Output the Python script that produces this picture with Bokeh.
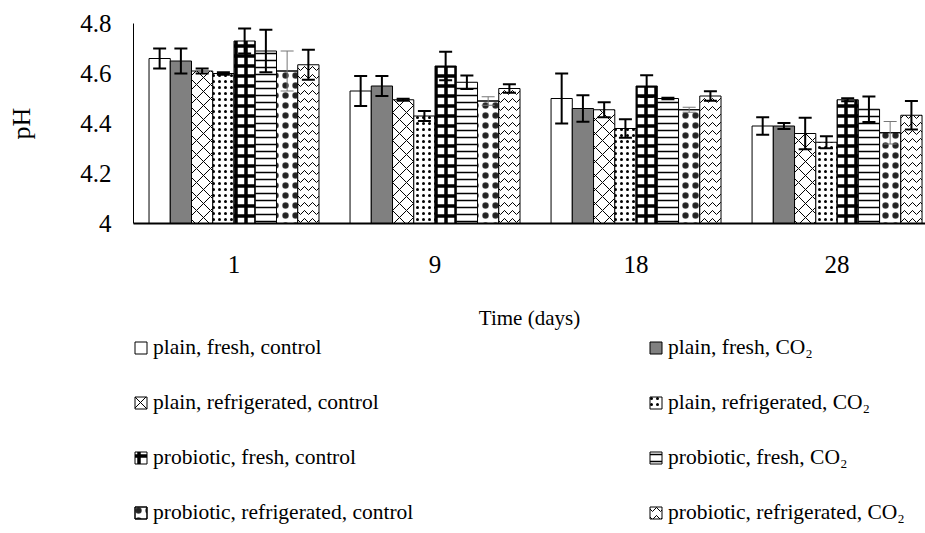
import numpy as np
from bokeh.plotting import figure
from bokeh.layouts import column
from bokeh.models import (ColumnDataSource, Whisker, TeeHead, Legend, LegendItem,
                          FixedTicker, Range1d)
from bokeh.embed import file_html
from bokeh.resources import INLINE

# ---------------- data ----------------
days = ["1", "9", "18", "28"]
y_ticks = [4.0, 4.2, 4.4, 4.6, 4.8]
y_tick_labels = ["4", "4.2", "4.4", "4.6", "4.8"]

series_names = [
    "plain, fresh, control",
    "plain, fresh, CO₂",
    "plain, refrigerated, control",
    "plain, refrigerated, CO₂",
    "probiotic, fresh, control",
    "probiotic, fresh, CO₂",
    "probiotic, refrigerated, control",
    "probiotic, refrigerated, CO₂",
]

ph_plain_fresh_control = [4.66, 4.53, 4.50, 4.39]
ph_plain_fresh_co2 = [4.65, 4.55, 4.46, 4.39]
ph_plain_refr_control = [4.61, 4.495, 4.455, 4.36]
ph_plain_refr_co2 = [4.60, 4.43, 4.38, 4.325]
ph_prob_fresh_control = [4.73, 4.63, 4.55, 4.495]
ph_prob_fresh_co2 = [4.69, 4.565, 4.50, 4.457]
ph_prob_refr_control = [4.61, 4.49, 4.455, 4.363]
ph_prob_refr_co2 = [4.635, 4.54, 4.51, 4.433]

err_plain_fresh_control = [0.04, 0.06, 0.10, 0.035]
err_plain_fresh_co2 = [0.05, 0.04, 0.053, 0.012]
err_plain_refr_control = [0.01, 0.004, 0.03, 0.063]
err_plain_refr_co2 = [0.005, 0.02, 0.037, 0.024]
err_prob_fresh_control = [0.05, 0.057, 0.043, 0.006]
err_prob_fresh_co2 = [0.085, 0.027, 0.003, 0.051]
err_prob_refr_control = [0.08, 0.017, 0.01, 0.045]
err_prob_refr_co2 = [0.06, 0.017, 0.019, 0.057]

values = [ph_plain_fresh_control, ph_plain_fresh_co2, ph_plain_refr_control,
          ph_plain_refr_co2, ph_prob_fresh_control, ph_prob_fresh_co2,
          ph_prob_refr_control, ph_prob_refr_co2]
errors = [err_plain_fresh_control, err_plain_fresh_co2, err_plain_refr_control,
          err_plain_refr_co2, err_prob_fresh_control, err_prob_fresh_co2,
          err_prob_refr_control, err_prob_refr_co2]

# ---------------- styles ----------------
FONT = "Liberation Serif"
fills = ["white", "#808080", "white", "white", "white", "white", "white", "white"]
hatches = [None, None, "x", ".", "+", "-", "o", "v"]
hatch_scales = [12, 12, 14, 6, 10, 7, 10, 8]
hatch_weights = [1, 1, 1, 2.5, 3.5, 1.5, 1.5, 1]
hatch_colors = ["black", "black", "black", "black", "black", "black", "#444444", "black"]
err_colors = ["black"] * 6 + ["#777777", "black"]
err_widths = [2] * 6 + [1, 2]

W = 925
H_MAIN = 335
H_LEG = 533 - H_MAIN


def add_bars(fig, i, src, width):
    kw = dict(x="x", top="top", bottom=0, width=width, source=src,
              fill_color=fills[i], line_color="black", line_width=1)
    if hatches[i]:
        kw.update(hatch_pattern=hatches[i], hatch_scale=hatch_scales[i],
                  hatch_weight=hatch_weights[i], hatch_color=hatch_colors[i])
    rs = [fig.vbar(**kw)]
    if i == 6:
        rs.append(fig.vbar(x="x", top="top", bottom=0, width=width, source=src,
                           fill_alpha=0, line_color="black", line_width=1,
                           hatch_pattern=".", hatch_scale=10, hatch_weight=3,
                           hatch_color="#222222"))
    return rs


# ---------------- main chart ----------------
p = figure(width=W, height=H_MAIN, x_range=Range1d(0, 3.94), y_range=Range1d(4, 4.8),
           output_backend="svg", toolbar_location=None,
           min_border_left=133, min_border_right=0, min_border_top=23,
           min_border_bottom=H_MAIN - 223)
p.outline_line_color = None
p.grid.visible = False
p.background_fill_color = "white"

xc = np.arange(len(days)) + 0.5
bw = 0.1057
offsets = (np.arange(len(values)) - (len(values) - 1) / 2) * bw

for i, (v, e) in enumerate(zip(values, errors)):
    xs = xc + offsets[i]
    src = ColumnDataSource(dict(x=xs, top=v, upper=np.array(v) + np.array(e),
                                lower=np.array(v) - np.array(e)))
    add_bars(p, i, src, bw)
    w = Whisker(source=src, base="x", upper="upper", lower="lower", dimension="height",
                line_color=err_colors[i], line_width=err_widths[i], level="annotation",
                upper_head=TeeHead(size=13, line_color=err_colors[i], line_width=err_widths[i]),
                lower_head=TeeHead(size=13, line_color=err_colors[i], line_width=err_widths[i]))
    p.add_layout(w)

p.xaxis.ticker = FixedTicker(ticks=list(xc))
p.xaxis.major_label_overrides = {float(x): d for x, d in zip(xc, days)}
p.yaxis.ticker = FixedTicker(ticks=y_ticks)
p.yaxis.major_label_overrides = {t: l for t, l in zip(y_ticks, y_tick_labels)}
for ax in (p.xaxis[0], p.yaxis[0]):
    ax.major_tick_out = 0
    ax.major_tick_in = 0
    ax.minor_tick_out = 0
    ax.minor_tick_in = 0
    ax.axis_line_color = "black"
    ax.major_label_text_font = FONT
    ax.major_label_text_font_size = "25px"
    ax.major_label_text_color = "black"
    ax.axis_label_text_font = FONT
    ax.axis_label_text_font_style = "normal"
    ax.axis_label_text_color = "black"
p.xaxis.axis_line_width = 2
p.yaxis.axis_line_width = 1
p.xaxis.major_label_standoff = 32
p.yaxis.major_label_standoff = 22

p.xaxis.axis_label = "Time (days)"
p.xaxis.axis_label_text_font_size = "21px"
p.xaxis.axis_label_standoff = 30

p.yaxis.axis_label = "pH"
p.yaxis.axis_label_text_font_size = "26px"
p.yaxis.axis_label_standoff = 41

# ---------------- legend panel ----------------
lg = figure(width=W, height=H_LEG, x_range=Range1d(0, 1), y_range=Range1d(0, 1),
            output_backend="svg", toolbar_location=None,
            x_axis_type=None, y_axis_type=None,
            min_border_left=0, min_border_right=0, min_border_top=0, min_border_bottom=0)
lg.outline_line_color = None
lg.background_fill_color = "white"

# off-screen proxy renderers that only provide the legend swatches
proxy = ColumnDataSource(dict(x=[-5.0], top=[-5.0]))
leg_renderers = [add_bars(lg, i, proxy, 0.1) for i in range(len(values))]


def make_legend(idx, vx):
    items = [LegendItem(label=series_names[i], renderers=leg_renderers[i]) for i in idx]
    n = len(items)
    lh, sp = 25, 30
    height = n * lh + (n - 1) * sp
    return Legend(items=items, location=(vx, H_LEG - height), orientation="vertical",
                  border_line_alpha=0, background_fill_alpha=0, padding=0, margin=0,
                  spacing=sp, glyph_width=15, glyph_height=15, label_height=lh,
                  label_standoff=5, label_text_font=FONT, label_text_font_size="21.5px",
                  label_text_color="black")


lg.add_layout(make_legend([0, 2, 4, 6], 0))
lg.add_layout(make_legend([1, 3, 5, 7], 515))

layout = column(p, lg, spacing=0)
open("out.html", "w").write(file_html(layout, INLINE))
